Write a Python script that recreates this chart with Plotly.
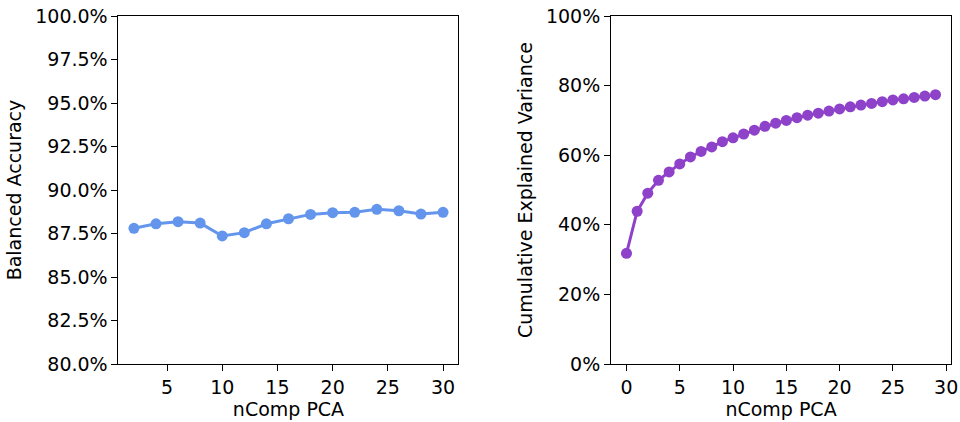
import plotly.graph_objects as go

# Balanced accuracy against number of PCA components
n_comp_acc = [2, 4, 6, 8, 10, 12, 14, 16, 18, 20, 22, 24, 26, 28, 30]
balanced_acc = [0.8780, 0.8806, 0.8818, 0.8810, 0.8736, 0.8755, 0.8806, 0.8835,
                0.8860, 0.8870, 0.8872, 0.8889, 0.8881, 0.8862, 0.8872]

# Cumulative explained variance for components 0..29
n_comp_var = list(range(30))
cum_var = [0.318, 0.439, 0.491, 0.528, 0.552, 0.575, 0.595, 0.611, 0.624, 0.639,
           0.650, 0.661, 0.672, 0.683, 0.692, 0.700, 0.708, 0.715, 0.721, 0.727,
           0.733, 0.739, 0.744, 0.749, 0.754, 0.759, 0.762, 0.766, 0.770, 0.774]

font = dict(family="DejaVu Sans", size=19, color="black")

fig = go.Figure()
fig.add_trace(go.Scatter(
    x=n_comp_acc, y=balanced_acc, mode="lines+markers",
    line=dict(color="#6495ED", width=3),
    marker=dict(color="#6495ED", size=11),
    xaxis="x", yaxis="y", showlegend=False))
fig.add_trace(go.Scatter(
    x=n_comp_var, y=cum_var, mode="lines+markers",
    line=dict(color="#8E41C9", width=3),
    marker=dict(color="#8E41C9", size=11),
    xaxis="x2", yaxis="y2", showlegend=False))

axis_common = dict(
    showgrid=False, zeroline=False, showline=True, mirror=True,
    linecolor="black", linewidth=1, ticks="outside", ticklen=6,
    tickcolor="black", tickwidth=1, tickfont=font, automargin=False,
)

fig.update_layout(
    width=960, height=422,
    margin=dict(l=0, r=0, t=0, b=0),
    paper_bgcolor="white", plot_bgcolor="white",
    font=font,
    xaxis=dict(axis_common, domain=[0.1234, 0.4776], range=[0.6, 31.4],
               tickvals=[5, 10, 15, 20, 25, 30], anchor="y",
               title=dict(text="nComp PCA", font=font, standoff=4)),
    yaxis=dict(axis_common, domain=[0.1374, 0.962], range=[0.80, 1.00],
               dtick=0.025, tickformat=".1%", anchor="x",
               title=dict(text="Balanced Accuracy", font=font, standoff=8)),
    xaxis2=dict(axis_common, domain=[0.6365, 0.9906], range=[-1.45, 30.45],
                tickvals=[0, 5, 10, 15, 20, 25, 30], anchor="y2",
                title=dict(text="nComp PCA", font=font, standoff=4)),
    yaxis2=dict(axis_common, domain=[0.1374, 0.962], range=[0.0, 1.0],
                dtick=0.2, tickformat=".0%", anchor="x2",
                title=dict(text="Cumulative Explained Variance", font=font, standoff=8)),
)

fig.write_html("out.html")
